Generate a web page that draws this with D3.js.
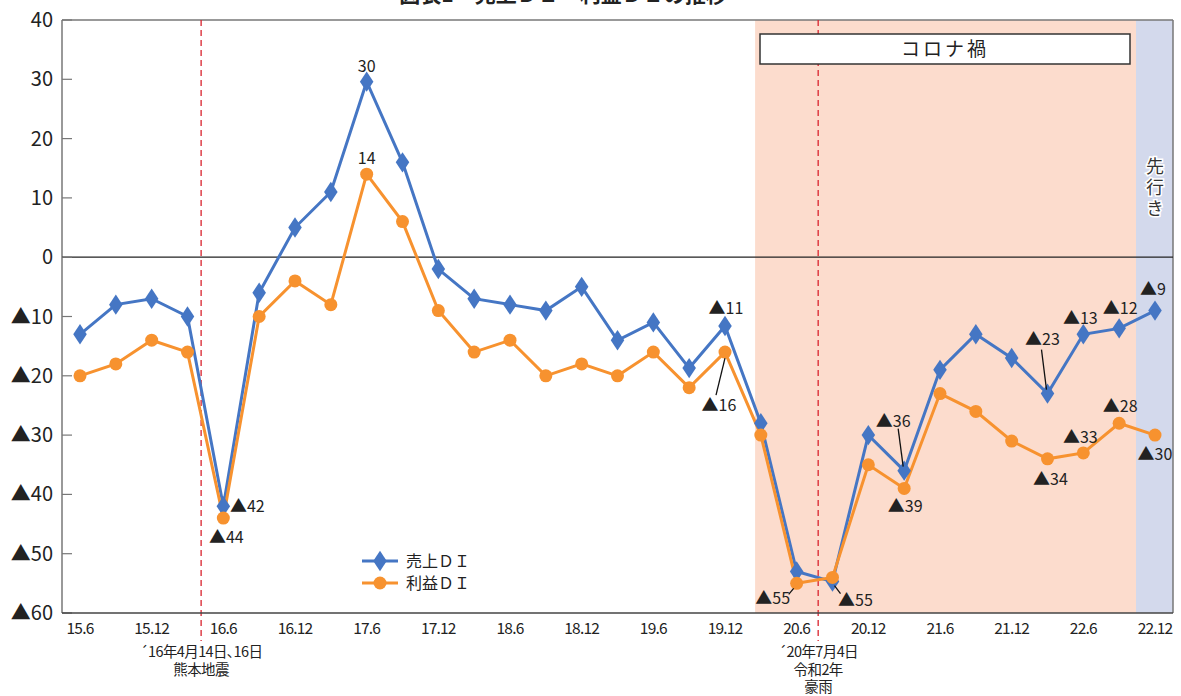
<!DOCTYPE html>
<html><head><meta charset="utf-8">
<script src="https://cdn.jsdelivr.net/npm/d3@7"></script>
<style>
body{margin:0;background:#fff;}
text{font-family:"Noto Sans CJK JP","Noto Sans",sans-serif;}
</style></head>
<body><svg id="c" width="1181" height="696"></svg>
<script>
const periods = ["15.6","15.9","15.12","16.3","16.6","16.9","16.12","17.3","17.6","17.9","17.12","18.3","18.6","18.9","18.12","19.3","19.6","19.9","19.12","20.3","20.6","20.9","20.12","21.3","21.6","21.9","21.12","22.3","22.6","22.9","22.12"];
const tickLabels = ["15.6","15.12","16.6","16.12","17.6","17.12","18.6","18.12","19.6","19.12","20.6","20.12","21.6","21.12","22.6","22.12"];
const salesDI  = [-13,-8,-7,-10,-42,-6,5,11,29.6,16,-2,-7,-8,-9,-5,-14,-11,-18.7,-11.6,-28,-53,-54.7,-30,-36,-19,-13,-17,-23,-13,-12,-9];
const profitDI = [-20,-18,-14,-16,-44,-10,-4,-8,14,6,-9,-16,-14,-20,-18,-20,-16,-22,-16,-30,-55,-54,-35,-39,-23,-26,-31,-34,-33,-28,-30];
const yTicks = [40,30,20,10,0,-10,-20,-30,-40,-50,-60];
const seriesNames = ["売上ＤＩ","利益ＤＩ"];
// callouts: [series, index, label]
const callouts = [
  ["s",8,"30"],["p",8,"14"],["s",4,"▲42"],["p",4,"▲44"],["s",18,"▲11"],["p",18,"▲16"],
  ["p",20,"▲55"],["s",21,"▲55"],["s",23,"▲36"],["p",23,"▲39"],["s",27,"▲23"],["p",27,"▲34"],
  ["s",28,"▲13"],["p",28,"▲33"],["s",29,"▲12"],["p",29,"▲28"],["s",30,"▲9"],["p",30,"▲30"]
];
// layout of each callout: label dx, baseline dy, optional leader [sx,sy,ex,ey] offsets from the point
const calloutPlace = [
  [0,-10,null],[0,-10,null],[24,6,null],[3,25,null],[1,-12,null],[-6,59,[-9,43,0,6]],
  [-24,21,[-8,11,-3,5]],[23,24,[8,12,2,4]],[-11,-44,[-6,-42,-1,-4]],[1,24,null],[-5,-49,[-6,-44,-1,-4]],[3,26,null],
  [-3,-10,null],[-3,-10,null],[1,-14,null],[1,-11,null],[-2,-16,null],[0,25,null]
];
const events = [{pos:3.38, lines:["´16年4月14日､16日","熊本地震"]},{pos:20.6, lines:["´20年7月4日","令和2年","豪雨"]}];
const covidRange = [18.84, 29.47];
const forecastStart = 29.47;

const svg = d3.select("#c");
const L=62, R=1173, T=20, B=613;
const x = d3.scaleLinear().domain([0,30]).range([80,1155]);
const y = d3.scaleLinear().domain([-60,40]).range([B,T]);
const blue="#4576c4", orange="#f7922f";

// backgrounds
svg.append("rect").attr("x",x(covidRange[0])).attr("y",T).attr("width",x(covidRange[1])-x(covidRange[0])).attr("height",B-T).attr("fill","#fcdccd");
svg.append("rect").attr("x",x(forecastStart)).attr("y",T).attr("width",R-x(forecastStart)).attr("height",B-T).attr("fill","#d3d9ec");

// title (cut off at top, as in the original)
svg.append("text").attr("x",563).attr("y",2).attr("text-anchor","middle").attr("font-size",21).attr("font-weight","bold").attr("fill","#222").text("図表1　売上ＤＩ・利益ＤＩの推移");

// frame
svg.append("line").attr("x1",L).attr("x2",R).attr("y1",T).attr("y2",T).attr("stroke","#777").attr("stroke-width",1.5);
svg.append("line").attr("x1",R).attr("x2",R).attr("y1",T).attr("y2",B).attr("stroke","#777").attr("stroke-width",1.5);
svg.append("line").attr("x1",L).attr("x2",L).attr("y1",T).attr("y2",B).attr("stroke","#777").attr("stroke-width",1.5);
// zero line
svg.append("line").attr("x1",L).attr("x2",R).attr("y1",y(0)).attr("y2",y(0)).attr("stroke","#222").attr("stroke-width",1.2);

// y axis
const ya = svg.append("g");
yTicks.forEach(v=>{
  ya.append("line").attr("x1",L).attr("x2",L+10).attr("y1",y(v)).attr("y2",y(v)).attr("stroke","#777").attr("stroke-width",1.2);
  ya.append("text").attr("x",53).attr("y",y(v)+7).attr("text-anchor","end").attr("font-size",20).attr("fill","#222")
    .text(v<0?"▲"+(-v):String(v));
});

// x labels
tickLabels.forEach(t=>{
  const i = periods.indexOf(t);
  svg.append("text").attr("x",x(i)).attr("y",634).attr("text-anchor","middle").attr("font-size",15.5).attr("fill","#222").attr("letter-spacing","-0.8").text(t);
});

// event lines
events.forEach(e=>{
  svg.append("line").attr("x1",x(e.pos)).attr("x2",x(e.pos)).attr("y1",T).attr("y2",641).attr("stroke","#d9232e").attr("stroke-width",1.3).attr("stroke-dasharray","6,4");
  const et = svg.append("text").attr("x",x(e.pos)).attr("y",657).attr("text-anchor","middle").attr("font-size",14.5).attr("fill","#222").attr("letter-spacing","-0.6");
  e.lines.forEach((s,k)=>{
    et.append("tspan").attr("x",x(e.pos)).attr("dy",k===0?0:17.5).text(s);
  });
});
// bottom axis (drawn over dashed line)
svg.append("line").attr("x1",L).attr("x2",R).attr("y1",B).attr("y2",B).attr("stroke","#444").attr("stroke-width",1.5);

// corona box
svg.append("rect").attr("x",760).attr("y",34).attr("width",370).attr("height",30).attr("fill","#fff").attr("stroke","#333").attr("stroke-width",1.5);
svg.append("text").attr("x",945).attr("y",56).attr("text-anchor","middle").attr("font-size",19).attr("letter-spacing","3").attr("fill","#222").text("コロナ禍");
// forecast vertical text
svg.append("text").attr("x",1155).attr("y",157).attr("writing-mode","vertical-rl").attr("font-size",18).attr("letter-spacing","3").attr("fill","#333")
  .attr("stroke","#fff").attr("stroke-width",3).attr("paint-order","stroke").text("先行き");

// lines
const line = d3.line().x((d,i)=>x(i)).y(d=>y(d));
svg.append("path").datum(salesDI).attr("d",line).attr("fill","none").attr("stroke",blue).attr("stroke-width",3);
svg.append("path").datum(profitDI).attr("d",line).attr("fill","none").attr("stroke",orange).attr("stroke-width",3);
const diamond = d3.symbol().type(d3.symbolDiamond).size(120);
svg.selectAll(".sd").data(salesDI).join("path").attr("transform",(d,i)=>`translate(${x(i)},${y(d)}) scale(1.15,1)`).attr("d",diamond).attr("fill",blue);
svg.selectAll(".pc").data(profitDI).join("circle").attr("cx",(d,i)=>x(i)).attr("cy",d=>y(d)).attr("r",6.5).attr("fill",orange);

// callouts
callouts.forEach((c,k)=>{
  const [s,i,label] = c; const [dx,dy,lead] = calloutPlace[k];
  const v = s==="s"?salesDI[i]:profitDI[i];
  const px=x(i), py=y(v);
  if(lead){
    svg.append("line").attr("x1",px+lead[0]).attr("y1",py+lead[1]).attr("x2",px+lead[2]).attr("y2",py+lead[3]).attr("stroke","#111").attr("stroke-width",1.3);
  }
  const t = svg.append("text").attr("x",px+dx).attr("y",py+dy).attr("text-anchor","middle").attr("font-size",16).attr("fill","#222");
  if(label.startsWith("▲")){
    t.append("tspan").attr("font-size",17).text("▲");
    t.append("tspan").text(label.slice(1));
  } else t.text(label);
});

// legend
const lg = [[blue,"s"],[orange,"p"]];
lg.forEach((l,k)=>{
  const ly = 561+k*22;
  svg.append("line").attr("x1",362).attr("x2",398).attr("y1",ly).attr("y2",ly).attr("stroke",l[0]).attr("stroke-width",3);
  if(l[1]==="s") svg.append("path").attr("transform",`translate(380,${ly}) scale(1.15,1)`).attr("d",diamond).attr("fill",blue);
  else svg.append("circle").attr("cx",380).attr("cy",ly).attr("r",6.5).attr("fill",orange);
  svg.append("text").attr("x",406).attr("y",ly+6).attr("font-size",16).attr("fill","#222").text(seriesNames[k]);
});
</script></body></html>
